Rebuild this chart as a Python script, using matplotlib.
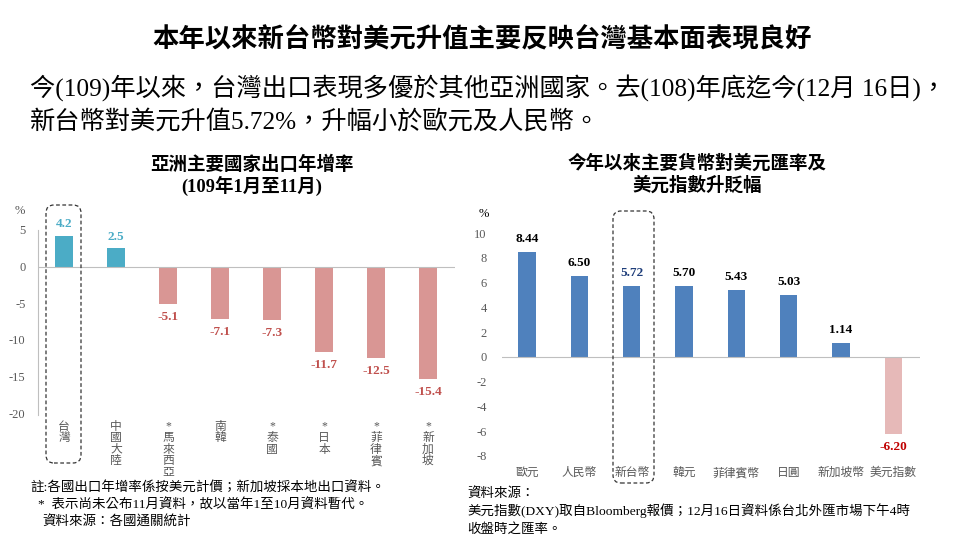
import matplotlib.pyplot as plt
from matplotlib.patches import FancyBboxPatch

plt.rcParams['font.family'] = ['Liberation Serif', 'Noto Sans CJK TC', 'DejaVu Sans']

# left chart: export growth
exp_cats = ['台灣', '中國大陸', '*馬來西亞', '南韓', '*泰國', '*日本', '*菲律賓', '*新加坡']
exp_vals = [4.2, 2.5, -5.1, -7.1, -7.3, -11.7, -12.5, -15.4]
exp_ticks = [5, 0, -5, -10, -15, -20]

# right chart: currency moves vs USD
fx_cats = ['歐元', '人民幣', '新台幣', '韓元', '菲律賓幣', '日圓', '新加坡幣', '美元指數']
fx_vals = [8.44, 6.50, 5.72, 5.70, 5.43, 5.03, 1.14, -6.20]
fx_ticks = [10, 8, 6, 4, 2, 0, -2, -4, -6, -8]

W, H = 960, 540
fig = plt.figure(figsize=(9.6, 5.4), dpi=100)
fig.patch.set_facecolor('white')

def px(x, y):
    return x / W, 1 - y / H

def stack(label):
    return '\n'.join(label)

gray = '#595959'

fig.text(*px(482, 40), '本年以來新台幣對美元升值主要反映台灣基本面表現良好',
         ha='center', va='center', fontsize=19, fontweight='bold', color='black')
fig.text(*px(30, 88), '今(109)年以來，台灣出口表現多優於其他亞洲國家。去(108)年底迄今(12月 16日)，',
         ha='left', va='center', fontsize=18.2, color='black')
fig.text(*px(30, 122), '新台幣對美元升值5.72%，升幅小於歐元及人民幣。',
         ha='left', va='center', fontsize=18.2, color='black')

# ---- left
ax1 = fig.add_axes([38 / W, 1 - 415 / H, (455 - 38) / W, (415 - 230) / H])
x1 = range(len(exp_vals))
c1 = ['#4BACC6' if v > 0 else '#D99694' for v in exp_vals]
ax1.bar(x1, exp_vals, width=0.33, color=c1)
ax1.axhline(0, color='#BFBFBF', lw=0.8)
ax1.set_xlim(-0.5, 7.52)
ax1.set_ylim(-20.27, 5)
ax1.set_yticks(exp_ticks)
ax1.set_yticklabels([str(t) for t in exp_ticks], fontsize=9, color=gray)
ax1.set_xticks(list(x1))
ax1.set_xticklabels([stack(c) for c in exp_cats], fontsize=8.5, color=gray,
                    linespacing=0.95)
ax1.tick_params(axis='both', length=0)
ax1.tick_params(axis='y', pad=9)
ax1.tick_params(axis='x', pad=4)
for s in ['top', 'right', 'bottom']:
    ax1.spines[s].set_visible(False)
ax1.spines['left'].set_color('#BFBFBF')
ax1.spines['left'].set_linewidth(0.8)
for xi, v in zip(x1, exp_vals):
    ax1.annotate(f'{v:.1f}', (xi, v), xytext=(0, 4 if v > 0 else -5),
                 textcoords='offset points', ha='center',
                 va='bottom' if v > 0 else 'top', fontsize=9.5, fontweight='bold',
                 color='#4BACC6' if v > 0 else '#C0504D', annotation_clip=False)
fig.text(*px(20, 211), '%', ha='center', va='center', fontsize=9, color=gray)
fig.text(*px(252, 165), '亞洲主要國家出口年增率', ha='center', va='center',
         fontsize=13.3, fontweight='bold')
fig.text(*px(252, 186), '(109年1月至11月)', ha='center', va='center',
         fontsize=13.3, fontweight='bold')

# ---- right
ax2 = fig.add_axes([502 / W, 1 - 456 / H, (920 - 502) / W, (456 - 233) / H])
x2 = range(len(fx_vals))
c2 = ['#4F81BD' if v > 0 else '#E6B9B8' for v in fx_vals]
ax2.bar(x2, fx_vals, width=0.33, color=c2)
ax2.axhline(0, color='#BFBFBF', lw=0.8)
ax2.set_xlim(-0.48, 7.51)
ax2.set_ylim(-8, 10)
ax2.set_yticks(fx_ticks)
ax2.set_yticklabels([str(t) for t in fx_ticks], fontsize=9, color=gray)
ax2.set_xticks(list(x2))
ax2.set_xticklabels(fx_cats, fontsize=8.5, color=gray)
ax2.tick_params(axis='both', length=0)
ax2.tick_params(axis='y', pad=11)
ax2.tick_params(axis='x', pad=8)
for s in ax2.spines.values():
    s.set_visible(False)
for xi, (cat, v) in enumerate(zip(fx_cats, fx_vals)):
    col = '#1F3E7A' if cat == '新台幣' else ('#C00000' if v < 0 else 'black')
    ax2.annotate(f'{v:.2f}', (xi, v), xytext=(0, 5 if v > 0 else -5),
                 textcoords='offset points', ha='center',
                 va='bottom' if v > 0 else 'top', fontsize=9.5, fontweight='bold',
                 color=col, annotation_clip=False)
fig.text(*px(484, 214), '%', ha='center', va='center', fontsize=9, color='black')
fig.text(*px(697, 163), '今年以來主要貨幣對美元匯率及', ha='center', va='center',
         fontsize=13.3, fontweight='bold')
fig.text(*px(697, 185), '美元指數升貶幅', ha='center', va='center',
         fontsize=13.3, fontweight='bold')

# dashed highlight boxes (pixel layout)
for (bx, by, bw, bh) in [(46, 205, 35, 258), (613, 211, 41, 272)]:
    box = FancyBboxPatch((bx / 100, (H - by - bh) / 100), bw / 100, bh / 100,
                         boxstyle='round,pad=0,rounding_size=0.08',
                         transform=fig.dpi_scale_trans, fill=False,
                         edgecolor='#333333', linestyle=(0, (3, 2)), lw=0.9)
    fig.patches.append(box)

# footnotes
notes_l = [(30, 488, '註:各國出口年增率係按美元計價；新加坡採本地出口資料。'),
           (38, 505, '*  表示尚未公布11月資料，故以當年1至10月資料暫代。'),
           (42, 522, '資料來源：各國通關統計')]
for nx, ny, t in notes_l:
    fig.text(*px(nx, ny), t, ha='left', va='center', fontsize=9.7, color='black')
notes_r = [(467, 493, '資料來源：'),
           (467, 511, '美元指數(DXY)取自Bloomberg報價；12月16日資料係台北外匯市場下午4時'),
           (467, 529, '收盤時之匯率。')]
for nx, ny, t in notes_r:
    fig.text(*px(nx, ny), t, ha='left', va='center', fontsize=9.7, color='black')

fig.savefig('out.png', dpi=100, facecolor='white')
